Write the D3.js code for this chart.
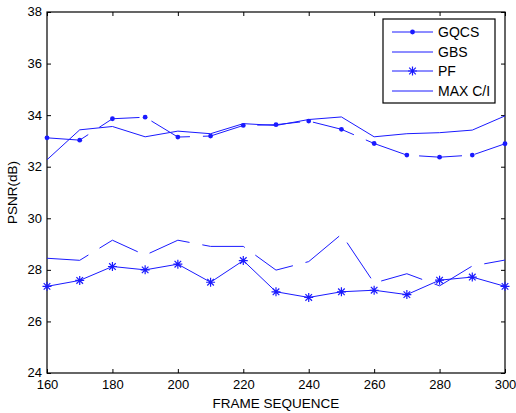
<!DOCTYPE html>
<html>
<head>
<meta charset="utf-8">
<script src="https://cdn.jsdelivr.net/npm/d3@7"></script>
<style>
  body { margin: 0; background: #fff; }
  text { font-family: "Liberation Sans", Arial, sans-serif; }
</style>
</head>
<body>
<div id="chart"></div>
<script>
// data
var frames = [160, 170, 180, 190, 200, 210, 220, 230, 240, 250, 260, 270, 280, 290, 300];
var gqcs = [33.12, 33.03, 33.86, 33.92, 33.15, 33.19, 33.6, 33.63, 33.77, 33.45, 32.9, 32.45, 32.37, 32.45, 32.89];
var gbs = [32.27, 33.43, 33.56, 33.16, 33.38, 33.28, 33.67, 33.6, 33.83, 33.93, 33.16, 33.28, 33.32, 33.42, 33.97];
var pf = [27.36, 27.59, 28.13, 28.0, 28.22, 27.52, 28.36, 27.15, 26.93, 27.15, 27.21, 27.04, 27.6, 27.72, 27.36];
var maxci = [28.45, 28.37, 29.15, 28.57, 29.15, 28.91, 28.91, 27.99, 28.32, 29.38, 27.49, 27.85, 27.38, 28.15, 28.38];
var xTicks = [160, 180, 200, 220, 240, 260, 280, 300];
var yTicks = [24, 26, 28, 30, 32, 34, 36, 38];

var W = 516, H = 413;
var m = { left: 47, right: 11, top: 12, bottom: 40 };
var col = "#1a1aff";

var svg = d3.select("#chart").append("svg")
  .attr("width", W).attr("height", H);

var x = d3.scaleLinear().domain([160, 300]).range([m.left, W - m.right]);
var y = d3.scaleLinear().domain([24, 38]).range([H - m.bottom, m.top]);

// axes box, ticks inward on every side
function tickAxis(axis, transform) {
  var g = svg.append("g").attr("transform", transform).call(axis);
  g.selectAll("path").remove();
  g.selectAll("line").attr("stroke", "#000");
  g.selectAll("text").attr("font-size", 13).attr("fill", "#000");
  return g;
}
var xb = tickAxis(d3.axisBottom(x).tickValues(xTicks).tickSizeInner(-4).tickPadding(8), "translate(0," + y(24) + ")");
xb.selectAll("text").attr("dy", "0.6em");
tickAxis(d3.axisTop(x).tickValues(xTicks).tickSizeInner(-4).tickFormat(""), "translate(0," + y(38) + ")");
var yl = tickAxis(d3.axisLeft(y).tickValues(yTicks).tickSizeInner(-4).tickPadding(5), "translate(" + x(160) + ",0)");
yl.selectAll("text").attr("dy", "0.3em");
tickAxis(d3.axisRight(y).tickValues(yTicks).tickSizeInner(-4).tickFormat(""), "translate(" + x(300) + ",0)");

svg.append("rect")
  .attr("x", x(160)).attr("y", y(38))
  .attr("width", x(300) - x(160)).attr("height", y(24) - y(38))
  .attr("fill", "none").attr("stroke", "#000").attr("stroke-width", 1.2);

svg.append("text").attr("x", (x(160) + x(300)) / 2).attr("y", 408)
  .attr("text-anchor", "middle").attr("font-size", 13.5).text("FRAME SEQUENCE");
svg.append("text").attr("transform", "translate(17," + y(31) + ") rotate(-90)")
  .attr("text-anchor", "middle").attr("font-size", 13.5).text("PSNR(dB)");

var line = d3.line().x(function (d, i) { return x(frames[i]); }).y(function (d) { return y(d); });

function drawSeries(vals, dash) {
  svg.append("path").datum(vals)
    .attr("d", line).attr("fill", "none")
    .attr("stroke", col).attr("stroke-width", 1)
    .attr("stroke-dasharray", dash);
}
drawSeries(gqcs, "43,13");
drawSeries(gbs, null);
drawSeries(pf, null);
drawSeries(maxci, "43,13");

function dot(g, cx, cy) {
  g.append("circle").attr("cx", cx).attr("cy", cy).attr("r", 2.4).attr("fill", col);
}
function star(g, cx, cy) {
  var r = 4.5, d = 3.3;
  g.append("path")
    .attr("d", "M" + (cx - r) + "," + cy + "H" + (cx + r) +
      "M" + cx + "," + (cy - r) + "V" + (cy + r) +
      "M" + (cx - d) + "," + (cy - d) + "L" + (cx + d) + "," + (cy + d) +
      "M" + (cx - d) + "," + (cy + d) + "L" + (cx + d) + "," + (cy - d))
    .attr("stroke", col).attr("stroke-width", 1.2).attr("fill", "none");
}
var mk = svg.append("g");
gqcs.forEach(function (v, i) { dot(mk, x(frames[i]), y(v)); });
pf.forEach(function (v, i) { star(mk, x(frames[i]), y(v)); });

// legend
var lg = svg.append("g");
lg.append("rect").attr("x", 383).attr("y", 19).attr("width", 112).attr("height", 84)
  .attr("fill", "#fff").attr("stroke", "#000").attr("stroke-width", 1.2);
var legendNames = ["GQCS", "GBS", "PF", "MAX C/I"];
var legendY = [32, 52, 71, 91];
legendNames.forEach(function (name, i) {
  var ly = legendY[i];
  lg.append("line").attr("x1", 392).attr("x2", 433).attr("y1", ly).attr("y2", ly)
    .attr("stroke", col).attr("stroke-width", 1);
  if (i === 0) dot(lg, 412.5, ly);
  if (i === 2) star(lg, 412.5, ly);
  lg.append("text").attr("x", 438).attr("y", ly + 5).attr("font-size", 14).text(name);
});
</script>
</body>
</html>
